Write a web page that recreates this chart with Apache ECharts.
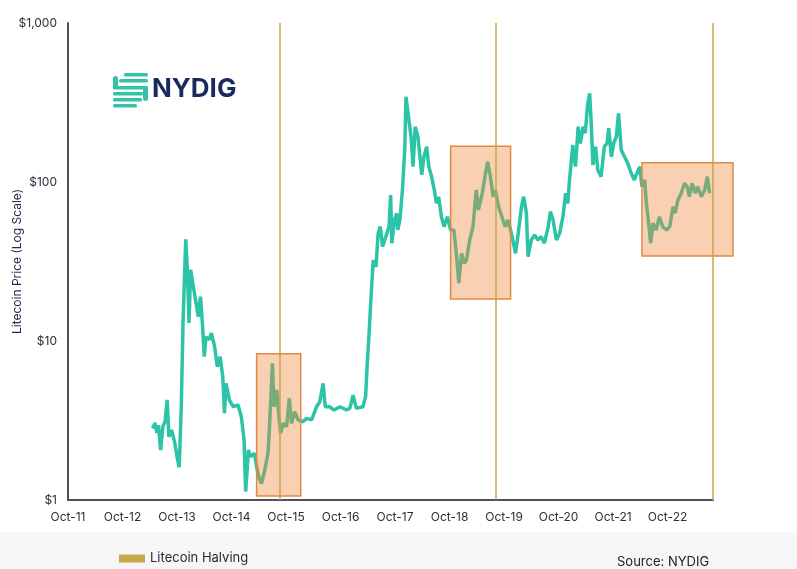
<!DOCTYPE html>
<html>
<head>
<meta charset="utf-8">
<script src="https://cdn.jsdelivr.net/npm/echarts@6/dist/echarts.min.js"></script>
<style>
  html, body { margin: 0; padding: 0; background: #fff; }
  #chart { width: 797px; height: 569px; }
</style>
</head>
<body>
<div id="chart"></div>
<script>
// LTC price (decimal year, USD)
var ltcYear = [
  2013.30, 2013.35, 2013.38, 2013.41, 2013.45, 2013.49, 2013.53, 2013.57, 2013.60, 2013.65, 2013.71, 2013.75,
  2013.79, 2013.83, 2013.86, 2013.91, 2013.94, 2013.97, 2014.00, 2014.05, 2014.10, 2014.14, 2014.18, 2014.22,
  2014.25, 2014.28, 2014.34, 2014.38, 2014.44, 2014.49, 2014.54, 2014.59, 2014.62, 2014.65, 2014.71, 2014.78,
  2014.87, 2014.93, 2014.98, 2015.01, 2015.06, 2015.10, 2015.17, 2015.21, 2015.25, 2015.30, 2015.36, 2015.42,
  2015.45, 2015.50, 2015.53, 2015.58, 2015.62, 2015.65, 2015.70, 2015.76, 2015.81, 2015.85, 2015.91, 2015.97,
  2016.06, 2016.13, 2016.22, 2016.31, 2016.37, 2016.43, 2016.47, 2016.55, 2016.63,
  2016.74, 2016.86, 2016.92, 2016.98, 2017.04, 2017.16, 2017.21, 2017.24, 2017.27, 2017.32, 2017.35, 2017.40,
  2017.44, 2017.48, 2017.52, 2017.58, 2017.64, 2017.67, 2017.69, 2017.74, 2017.78, 2017.80, 2017.84, 2017.89,
  2017.93, 2017.95, 2017.99, 2018.02, 2018.05, 2018.08, 2018.12, 2018.17, 2018.20, 2018.24, 2018.28, 2018.33, 2018.37,
  2018.42, 2018.47, 2018.51, 2018.55, 2018.60, 2018.65, 2018.71, 2018.77, 2018.83, 2018.88, 2018.92, 2018.97,
  2019.02, 2019.06, 2019.12, 2019.18, 2019.24, 2019.28, 2019.35, 2019.41, 2019.45, 2019.50, 2019.55, 2019.59,
  2019.65, 2019.71, 2019.77, 2019.82, 2019.87, 2019.91, 2019.96, 2020.01, 2020.07, 2020.11,
  2020.16, 2020.19, 2020.25, 2020.31, 2020.37, 2020.43, 2020.49, 2020.56, 2020.60, 2020.65, 2020.71, 2020.77,
  2020.83, 2020.88, 2020.92, 2020.95, 2020.98, 2021.01, 2021.06, 2021.11, 2021.15, 2021.20, 2021.24, 2021.28,
  2021.32, 2021.35, 2021.38, 2021.43, 2021.47, 2021.53, 2021.59, 2021.64, 2021.67, 2021.72, 2021.76, 2021.81, 2021.85,
  2021.90, 2021.96, 2022.02, 2022.08, 2022.14, 2022.19, 2022.24, 2022.28, 2022.33, 2022.36, 2022.39, 2022.44,
  2022.48, 2022.54, 2022.60, 2022.66, 2022.73, 2022.79, 2022.85, 2022.89, 2022.94, 2023.00, 2023.06, 2023.11,
  2023.15, 2023.20, 2023.26, 2023.30, 2023.37, 2023.43, 2023.48, 2023.52
];
var ltcPrice = [
  2.82, 3.05, 2.64, 2.96, 2.06, 2.89, 3.11, 4.26, 2.50, 2.76, 2.28, 1.87,
  1.61, 4.07, 13.0, 43.6, 28.0, 13.0, 28.0, 22.0, 17.3, 14.2, 19.0, 12.3,
  7.97, 10.6, 10.2, 11.2, 9.21, 6.89, 7.97, 5.96, 3.51, 5.42, 4.26, 3.86,
  3.96, 3.34, 2.38, 1.13, 2.06, 1.87, 1.97, 1.62, 1.40, 1.27, 1.54, 1.97,
  3.04, 7.24, 3.86, 4.92, 3.34, 2.63, 3.04, 2.89, 4.36, 3.04, 3.59, 3.19,
  3.11, 3.26, 3.19, 3.86, 4.15, 5.42, 3.86, 3.86, 3.68,
  3.86, 3.68, 3.77, 4.57, 3.77, 3.86, 4.46, 7.24, 10.6, 22.0, 32.3, 29.3,
  47.6, 52.4, 39.2, 45.3, 52.4, 82.8, 41.2, 57.7, 63.6, 49.9, 57.7, 93.4,
  167, 344, 270, 223, 184, 125, 223, 193, 152, 111, 144, 167, 125,
  108, 89.1, 73.5, 80.8, 60.5, 52.4, 60.5, 49.9, 49.9, 33.9, 23.1, 35.6,
  30.8, 32.3, 43.2, 52.4, 89.1, 66.7, 84.9, 114, 134, 108, 80.8, 89.1,
  69.9, 60.5, 52.4, 57.7, 49.9, 43.2, 35.6, 47.6, 69.9, 80.8,
  63.6, 33.9, 43.2, 46.4, 43.2, 45.3, 41.2, 52.4, 65.1, 57.7, 43.2, 47.6,
  60.5, 84.9, 73.5, 103, 131, 171, 125, 223, 175, 223, 203, 298,
  361, 234, 128, 167, 119, 108, 167, 175, 218, 144, 175, 193, 270,
  159, 144, 131, 114, 103, 114, 125, 93.4, 103, 73.5, 60.5, 41.2,
  55.0, 49.9, 60.5, 52.4, 49.9, 52.4, 69.9, 63.6, 77.1, 84.9, 98.2, 93.4,
  80.8, 98.2, 84.9, 93.4, 80.8, 89.1, 108, 84.9
];

// halving dates (decimal year)
var halvings = [2015.64, 2019.59, 2023.58];

// highlighted windows around halvings
var boxStart = [2015.21, 2018.77, 2022.28];
var boxEnd = [2016.02, 2019.87, 2023.95];
var boxLow = [1.06, 18.4, 34.2];
var boxHigh = [8.3, 168, 132];

var yTicks = [1, 10, 100, 1000];

// months since Oct-2011
function toM(y) { return (y - 2011.75) * 12; }

var priceData = ltcYear.map(function (y, i) { return [toM(y), ltcPrice[i]]; });
var boxData = boxStart.map(function (s, i) { return [toM(s), toM(boxEnd[i]), boxLow[i], boxHigh[i]]; });

var chart = echarts.init(document.getElementById('chart'));

var legendBase = {
  icon: 'rect',
  itemWidth: 26,
  itemHeight: 8,
  left: 114,
  textStyle: { fontSize: 13, color: '#2b2b2b', fontFamily: 'Inter, sans-serif' }
};

var option = {
  backgroundColor: '#fff',
  animation: false,
  grid: { left: 68, right: 84, top: 23, bottom: 69, outerBoundsMode: 'none' },
  legend: [
    Object.assign({ top: 547, data: ['Litecoin Halving'] }, legendBase),
    Object.assign({ top: 566, data: ['LTC Price'] }, legendBase)
  ],
  xAxis: {
    type: 'value',
    min: 0,
    max: 142,
    interval: 12,
    axisLine: { show: true, lineStyle: { color: '#4b5360', width: 2 } },
    axisTick: { show: false },
    splitLine: { show: false },
    axisLabel: {
      margin: 11,
      fontSize: 12,
      color: '#2a2f3a',
      fontFamily: 'Inter, sans-serif',
      showMaxLabel: false,
      formatter: function (v) {
        if (v % 12 !== 0 || v >= 142) return '';
        return 'Oct-' + (11 + v / 12);
      }
    }
  },
  yAxis: {
    type: 'log',
    logBase: 10,
    min: 1,
    max: 1000,
    name: 'Litecoin Price (Log Scale)',
    nameLocation: 'middle',
    nameRotate: 90,
    nameGap: 45,
    nameMoveOverlap: false,
    nameTextStyle: { fontSize: 12, color: '#1f2a44', fontFamily: 'Inter, sans-serif' },
    axisLine: { show: true, lineStyle: { color: '#4b5360', width: 2 } },
    axisTick: { show: false },
    splitLine: { show: false },
    axisLabel: {
      margin: 11,
      fontSize: 12,
      color: '#2a2f3a',
      fontFamily: 'Inter, sans-serif',
      formatter: function (v) {
        if (yTicks.indexOf(v) < 0) return '';
        return '$' + v.toLocaleString('en-US');
      }
    }
  },
  series: [
    {
      name: 'LTC Price',
      type: 'line',
      data: priceData,
      showSymbol: false,
      itemStyle: { color: '#2cc4a6' },
      lineStyle: { color: '#2cc4a6', width: 3.5 },
      z: 2
    },
    {
      name: 'Halving Window',
      type: 'custom',
      data: boxData,
      encode: { x: [0, 1], y: [2, 3] },
      z: 3,
      silent: true,
      renderItem: function (params, api) {
        var p0 = api.coord([api.value(0), api.value(3)]);
        var p1 = api.coord([api.value(1), api.value(2)]);
        return {
          type: 'rect',
          shape: { x: p0[0], y: p0[1], width: p1[0] - p0[0], height: p1[1] - p0[1] },
          style: { fill: 'rgba(240,138,60,0.4)', stroke: '#de8a45', lineWidth: 1.5 }
        };
      }
    },
    {
      name: 'Litecoin Halving',
      type: 'line',
      data: [],
      itemStyle: { color: '#c6a84a' },
      z: 4,
      markLine: {
        silent: true,
        symbol: ['none', 'none'],
        label: { show: false },
        lineStyle: { color: '#c6a449', width: 1.5, type: 'solid' },
        data: halvings.map(function (h) { return { xAxis: toM(h) }; })
      }
    }
  ],
  graphic: [
    {
      type: 'rect',
      z: -10,
      shape: { x: 0, y: 532, width: 797, height: 37 },
      style: { fill: '#f6f6f6' }
    },
    {
      type: 'text',
      left: 617,
      top: 556,
      style: { text: 'Source: NYDIG', fontSize: 13, fill: '#222', fontFamily: 'Inter, sans-serif' }
    },
    {
      type: 'group',
      left: 113,
      top: 73,
      children: [
        { type: 'rect', shape: { x: 11, y: 0, width: 24, height: 3.5, r: 1.5 }, style: { fill: '#34c3a7' } },
        { type: 'rect', shape: { x: 6, y: 6, width: 29, height: 3.5, r: 1.5 }, style: { fill: '#34c3a7' } },
        { type: 'rect', shape: { x: 0, y: 3, width: 5, height: 13, r: 2.5 }, style: { fill: '#34c3a7' } },
        { type: 'rect', shape: { x: 0, y: 13, width: 35, height: 3.5, r: 1.5 }, style: { fill: '#34c3a7' } },
        { type: 'rect', shape: { x: 0, y: 19, width: 30, height: 3.5, r: 1.5 }, style: { fill: '#34c3a7' } },
        { type: 'rect', shape: { x: 30, y: 13, width: 5, height: 15, r: 2.5 }, style: { fill: '#34c3a7' } },
        { type: 'rect', shape: { x: 0, y: 25, width: 29, height: 3.5, r: 1.5 }, style: { fill: '#34c3a7' } },
        { type: 'rect', shape: { x: 0, y: 31, width: 24, height: 3.5, r: 1.5 }, style: { fill: '#34c3a7' } }
      ]
    },
    {
      type: 'text',
      left: 152,
      top: 76,
      style: { text: 'NYDIG', fontSize: 26, fontWeight: 'bold', fill: '#1b2a5c', fontFamily: 'Inter, sans-serif' }
    }
  ]
};

chart.setOption(option);
</script>
</body>
</html>
